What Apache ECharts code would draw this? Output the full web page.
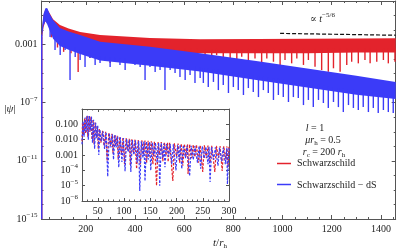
<!DOCTYPE html>
<html><head><meta charset="utf-8">
<script src="https://cdn.jsdelivr.net/npm/echarts@6/dist/echarts.min.js"></script>
<style>html,body{margin:0;padding:0;background:#fff}#c{width:399px;height:251px}</style>
</head><body><div id="c"></div>
<script>
// ---------------- data ----------------
// main plot: envelope of the dense oscillation band (log10 |psi|)
const envT       = [21,   28,   36,   43,   55,   67,   95,   130,  177,  258,  461,  665,  900,  1100, 1300, 1460];
const blueTopExp = [-2.0, -0.9, -0.5, -0.48,-0.95,-1.3, -1.86,-2.1, -2.34,-2.8, -3.15,-3.6, -4.15,-4.65,-5.15,-5.57];
const blueBotExp = [-2.6, -1.7, -1.4, -1.6, -2.1, -2.6, -3.1, -3.35,-3.65,-4.1, -4.45,-4.85,-5.45,-5.95,-6.45,-6.75];
const redTopExp  = [-2.2, -1.0, -0.55,-0.55,-0.9, -1.25,-1.65,-1.9, -2.13,-2.34,-2.55,-2.64,-2.62,-2.6, -2.58,-2.57];
const redBotExp  = [-2.8, -1.8, -1.4, -1.5, -1.9, -2.3, -2.7, -2.9, -3.1, -3.3, -3.5, -3.6, -3.6, -3.6, -3.55,-3.55];

// main plot: visible deep minima [t, log10 |psi|]
const redSpikes = [[21,-15],[60,-2.5],[85,-3.2],[110,-3.5],[140,-3.6],[169,-4.89],[192,-3.7],[217,-3.92],[245,-3.8],[270,-3.9],
 [299,-4.27],[325,-3.8],[345,-3.9],[368,-3.92],[395,-3.8],[421,-4.27],[445,-3.9],[468,-3.8],[490,-3.92],[512,-3.85],
 [535,-4.2],[558,-3.9],[580,-3.95],[604,-4.2],[628,-3.9],[652,-4.0],[685,-3.83],[712,-4.06],[732,-3.72],[759,-4.18],
 [787,-3.95],[814,-4.4],[834,-3.83],[861,-4.18],[888,-3.95],[915,-4.29],[936,-3.95],[963,-4.18],[990,-4.52],[1010,-4.06],
 [1037,-4.29],[1058,-3.95],[1085,-4.4],[1105,-4.06],[1132,-4.52],[1159,-4.75],[1186,-4.87],[1207,-4.63],[1234,-4.87],[1261,-4.4],
 [1281,-4.18],[1308,-4.29],[1335,-4.06],[1356,-4.29],[1383,-4.18],[1410,-4.06],[1430,-4.29],[1457,-4.18]];
const blueSpikes = [[21,-15],[55,-2.48],[75,-3.37],[96,-3.72],[116,-3.37],[136,-5.44],[157,-3.85],[177,-4.06],[197,-4.54],[217,-3.92],
 [238,-4.4],[258,-4.27],[278,-4.06],[299,-4.54],[319,-4.2],[339,-4.4],[360,-4.75],[380,-4.2],[400,-4.4],[421,-4.54],
 [441,-5.44],[461,-4.54],[482,-4.89],[502,-4.75],[522,-6.13],[543,-4.75],[563,-4.96],[583,-5.23],[604,-5.44],[624,-5.09],
 [644,-5.64],[665,-5.3],[678,-5.64],[698,-5.92],[719,-5.57],[739,-6.13],[759,-5.78],[780,-6.33],[800,-5.92],[820,-6.13],
 [841,-6.47],[861,-5.99],[881,-6.26],[902,-6.61],[922,-6.13],[942,-6.33],[963,-6.81],[983,-6.47],[1003,-6.61],[1024,-6.95],
 [1044,-6.61],[1064,-6.68],[1085,-7.16],[1105,-6.81],[1125,-7.3],[1146,-6.81],[1166,-7.02],[1186,-7.36],[1207,-6.95],[1227,-7.3],
 [1247,-7.64],[1268,-7.16],[1288,-7.36],[1308,-7.5],[1328,-7.3],[1349,-7.64],[1369,-7.36],[1389,-7.71],[1410,-7.5],[1430,-7.64],[1450,-7.71]];

// reference power law  ∝ t^(-5/6)
const powerLaw = [[990, 0.0059], [1460, 0.0044]];

// inset: [t, log10 |psi|]
const insetRed = [[20,-2.1],[21,-0.9],[23,-1.7],[25,-0.6],[27,-1.6],[29,-0.48],[31,-1.8],[33,-0.47],[35,-1.5],[37,-0.5],
 [39,-2.0],[41,-0.68],[43,-2.3],[45,-0.88],[47,-1.8],[49,-1.08],[51,-2.6],[53,-1.3],[56,-2.2],[59,-1.42],[62,-2.4],[65,-1.48],
 [68,-3.4],[71,-1.55],[74,-2.4],[77,-1.62],[79,-2.9],[82,-1.68],[84,-2.4],[87,-1.75],[89,-3.3],[92,-1.8],[95,-3.0],[98,-1.86],
 [101,-3.6],[104,-1.9],[107,-2.7],[110,-1.94],[112,-3.7],[115,-1.97],[118,-2.9],[121,-2.0],[124,-3.9],[127,-2.02],[131,-3.6],
 [134,-2.04],[137,-3.0],[140,-2.06],[143,-3.5],[146,-2.08],[149,-3.1],[152,-2.1],[155,-3.6],[158,-2.12],[162,-5.0],[165,-2.14],
 [168,-3.0],[171,-2.16],[174,-3.4],[177,-2.18],[180,-3.0],[183,-2.2],[184,-3.45],[187,-2.21],[193,-4.7],[196,-2.23],[200,-3.1],
 [203,-2.25],[206,-3.5],[209,-2.26],[212,-3.7],[215,-2.28],[218,-3.1],[221,-2.3],[222,-4.24],[225,-2.31],[229,-3.2],[232,-2.33],
 [235,-3.13],[238,-2.34],[242,-3.5],[245,-2.36],[250,-4.1],[253,-2.37],[257,-3.2],[260,-2.38],[264,-3.5],[267,-2.4],[273,-4.1],
 [276,-2.41],[280,-3.2],[283,-2.42],[287,-4.04],[290,-2.43],[294,-3.3],[296,-2.44],[298,-3.8],[300,-2.45]];
const insetBlue = [[20,-2.3],[22,-0.8],[24,-1.8],[26,-0.55],[28,-1.5],[30,-0.45],[32,-2.0],[34,-0.45],[36,-1.4],[38,-0.5],
 [40,-2.2],[42,-0.7],[44,-2.6],[46,-0.9],[48,-1.9],[50,-1.1],[52,-3.0],[54,-1.35],[57,-2.1],[60,-1.45],[63,-2.6],[66,-1.5],
 [69,-4.4],[72,-1.58],[75,-2.5],[78,-1.65],[80,-3.3],[83,-1.7],[85,-2.5],[88,-1.78],[90,-3.8],[93,-1.84],[96,-3.45],[99,-1.9],
 [102,-4.05],[105,-1.95],[108,-2.8],[111,-2.0],[113,-4.1],[116,-2.02],[119,-3.0],[122,-2.05],[125,-3.5],[128,-2.08],[130,-5.35],
 [133,-2.1],[136,-3.2],[138,-2.11],[140,-4.7],[143,-2.13],[146,-3.3],[149,-2.16],[151,-4.0],[154,-2.18],[157,-3.1],[160,-2.2],
 [163,-3.5],[166,-2.21],[168,-5.0],[171,-2.23],[174,-3.2],[176,-2.25],[178,-3.8],[181,-2.27],[185,-3.1],[188,-2.29],[191,-3.6],
 [194,-2.31],[199,-4.0],[202,-2.33],[205,-3.3],[207,-2.34],[210,-3.9],[213,-2.36],[217,-3.2],[220,-2.38],[225,-4.37],[228,-2.4],
 [232,-3.3],[235,-2.41],[240,-3.5],[243,-2.43],[246,-3.9],[249,-2.44],[253,-3.2],[256,-2.46],[260,-3.6],[262,-2.47],[264,-4.76],
 [267,-2.48],[271,-3.3],[274,-2.5],[279,-3.7],[282,-2.51],[286,-3.4],[289,-2.53],[293,-3.6],[296,-2.54],[297,-4.9],[300,-2.55]];

// tick values
const xMajor = [200,400,600,800,1000,1200,1400];
const xMinor = [50,100,150,250,300,350,450,500,550,650,700,750,850,900,950,1050,1100,1150,1250,1300,1350,1450];
const yMajor = [1e-15,1e-11,1e-7,1e-3];
const yMinor = [1e-14,1e-13,1e-12,1e-10,1e-9,1e-8,1e-6,1e-5,1e-4,1e-2,1e-1];
const inXMajor = [50,100,150,200,250,300];
const inXMinor = [30,40,60,70,80,90,110,120,130,140,160,170,180,190,210,220,230,240,260,270,280,290];
const inYMajor = [1e-6,1e-5,1e-4,1e-3,1e-2,1e-1];

// ---------------- chart ----------------
const F = "'Liberation Serif','DejaVu Serif',serif";
const RED = '#e3232c', BLUE = '#3b3bf8', AX = '#555', TXT = '#222';
const p10 = e => Math.pow(10, e);

function interpExp(t, arr) {
  if (t <= envT[0]) return arr[0];
  for (let i = 0; i < envT.length - 1; i++) {
    if (t <= envT[i + 1]) {
      const f = (t - envT[i]) / (envT[i + 1] - envT[i]);
      return arr[i] + f * (arr[i + 1] - arr[i]);
    }
  }
  return arr[arr.length - 1];
}

function bandSeries(topExp, botExp, color, z) {
  return {
    type: 'custom', xAxisIndex: 0, yAxisIndex: 0, z: z, silent: true,
    data: envT.map((t, i) => [t, p10(topExp[i])]),
    renderItem: function (params, api) {
      if (params.dataIndex !== 0) return null;
      const pts = [];
      for (let i = 0; i < envT.length; i++) pts.push(api.coord([envT[i], p10(topExp[i])]));
      for (let i = envT.length - 1; i >= 0; i--) pts.push(api.coord([envT[i], p10(botExp[i])]));
      return { type: 'polygon', shape: { points: pts }, style: { fill: color } };
    }
  };
}
function spikeSeries(spikes, botExp, color, z) {
  return {
    type: 'custom', xAxisIndex: 0, yAxisIndex: 0, z: z, silent: true,
    data: spikes.map(s => [s[0], p10(s[1])]),
    renderItem: function (params, api) {
      const t = api.value(0), v = api.value(1);
      const a = api.coord([t, p10(interpExp(t, botExp) + 0.3)]);
      const b = api.coord([t, v]);
      return { type: 'line', shape: { x1: a[0], y1: a[1], x2: b[0], y2: b[1] },
               style: { stroke: color, lineWidth: 1.4 } };
    }
  };
}

const supRich = {
  b: { fontFamily: F, fontSize: 10, color: TXT },
  s: { fontFamily: F, fontSize: 7, color: TXT, padding: [0, 0, 8, 0] }
};
function expLabel(v) { const e = Math.round(Math.log10(v)); return '{b|10}{s|\u2212' + (-e) + '}'; }

const lbl = { fontFamily: F, fontSize: 10, color: TXT };
const tickStyle = { color: AX, width: 1 };

function xAxis(grid, min, max, pos, vals, len, showLine, labels) {
  return {
    type: 'value', gridIndex: grid, min: min, max: max, position: pos,
    axisLine: { show: showLine, lineStyle: { color: AX, width: 1 } },
    axisTick: { show: true, inside: true, length: len, customValues: vals, lineStyle: tickStyle },
    axisLabel: labels ? Object.assign({ customValues: vals, formatter: v => String(v), margin: 5 }, lbl) : { show: false },
    splitLine: { show: false }
  };
}
function yAxis(grid, min, max, pos, vals, len, showLine, labels) {
  return {
    type: 'log', logBase: 10, gridIndex: grid, min: min, max: max, position: pos,
    axisLine: { show: showLine, lineStyle: { color: AX, width: 1 } },
    axisTick: { show: true, inside: true, length: len, customValues: vals, lineStyle: tickStyle },
    axisLabel: labels ? Object.assign({ customValues: vals, margin: 4, rich: supRich }, lbl, { formatter: labels }) : { show: false },
    splitLine: { show: false }
  };
}

const mainYFmt = v => { const e = Math.round(Math.log10(v)); return e === -3 ? '0.001' : expLabel(v); };
const insetYFmt = v => {
  const e = Math.round(Math.log10(v));
  if (e === -1) return '0.100'; if (e === -2) return '0.010'; if (e === -3) return '0.001';
  return expLabel(v);
};

const chart = echarts.init(document.getElementById('c'), null, { renderer: 'canvas' });
chart.setOption({
  animation: false,
  backgroundColor: '#fff',
  grid: [
    { left: 41.5, right: 3.3, top: 1, bottom: 32 },
    { left: 82, right: 170, top: 109, bottom: 50, show: true, backgroundColor: '#fff', borderWidth: 0 }
  ],
  xAxis: [
    xAxis(0, 20, 1460, 'bottom', xMajor, 4, true, true),
    xAxis(0, 20, 1460, 'bottom', xMinor, 2, false, false),
    xAxis(0, 20, 1460, 'top', xMajor, 4, true, false),
    xAxis(0, 20, 1460, 'top', xMinor, 2, false, false),
    xAxis(1, 20, 300, 'bottom', inXMajor, 3, true, true),
    xAxis(1, 20, 300, 'bottom', inXMinor, 1.5, false, false),
    xAxis(1, 20, 300, 'top', inXMajor, 3, true, false),
    xAxis(1, 20, 300, 'top', inXMinor, 1.5, false, false)
  ],
  yAxis: [
    yAxis(0, 1e-15, 1, 'left', yMajor, 4, true, mainYFmt),
    yAxis(0, 1e-15, 1, 'left', yMinor, 2, false, null),
    yAxis(0, 1e-15, 1, 'right', yMajor, 4, true, null),
    yAxis(0, 1e-15, 1, 'right', yMinor, 2, false, null),
    yAxis(1, 1e-6, 1, 'left', inYMajor, 3, true, insetYFmt),
    yAxis(1, 1e-6, 1, 'right', inYMajor, 3, true, null)
  ],
  series: [
    bandSeries(redTopExp, redBotExp, RED, 2),
    spikeSeries(redSpikes, redBotExp, RED, 2),
    bandSeries(blueTopExp, blueBotExp, BLUE, 3),
    spikeSeries(blueSpikes, blueBotExp, BLUE, 3),
    { type: 'line', xAxisIndex: 0, yAxisIndex: 0, data: powerLaw, showSymbol: false, z: 4,
      lineStyle: { color: '#111', width: 1.2, type: [4, 2] } },
    { type: 'line', xAxisIndex: 4, yAxisIndex: 4, data: insetRed.map(d => [d[0], p10(d[1])]), showSymbol: false, z: 5,
      lineStyle: { color: RED, width: 1.2, type: [2.5, 1.5] } },
    { type: 'line', xAxisIndex: 4, yAxisIndex: 4, data: insetBlue.map(d => [d[0], p10(d[1])]), showSymbol: false, z: 6,
      lineStyle: { color: BLUE, width: 1.2, type: [2.5, 1.5] } }
  ],
  graphic: [
    { type: 'text', x: 10, y: 109, style: { text: '|{i|\u03c8}|', fill: TXT, font: '11px ' + F, align: 'center', verticalAlign: 'middle',
      rich: { i: { fontFamily: F, fontSize: 11, fontStyle: 'italic', fill: TXT } } } },
    { type: 'text', x: 220, y: 243, style: { text: '{i|t}/{i|r}{sub|h}', fill: TXT, font: '11px ' + F, align: 'center', verticalAlign: 'middle',
      rich: { i: { fontFamily: F, fontSize: 11, fontStyle: 'italic', fill: TXT }, sub: { fontFamily: F, fontSize: 7, fill: TXT, padding: [6, 0, 0, 0] } } } },
    { type: 'text', x: 310, y: 19, style: { text: '\u221d {i|t}{sup|\u22125/6}', fill: TXT, font: '10px ' + F, align: 'left', verticalAlign: 'middle',
      rich: { i: { fontFamily: F, fontSize: 10, fontStyle: 'italic', fill: TXT }, sup: { fontFamily: F, fontSize: 7, fill: TXT, padding: [0, 0, 8, 0] } } } },
    { type: 'text', x: 315, y: 128, style: { text: '{i|l} = 1', fill: TXT, font: '10px ' + F, align: 'center', verticalAlign: 'middle',
      rich: { i: { fontFamily: F, fontSize: 10, fontStyle: 'italic', fill: TXT } } } },
    { type: 'text', x: 323, y: 140, style: { text: '{i|\u03bcr}{sub|h} = 0.5', fill: TXT, font: '10px ' + F, align: 'center', verticalAlign: 'middle',
      rich: { i: { fontFamily: F, fontSize: 10, fontStyle: 'italic', fill: TXT }, sub: { fontFamily: F, fontSize: 7, fill: TXT, padding: [6, 0, 0, 0] } } } },
    { type: 'text', x: 324, y: 152, style: { text: '{i|r}{sub|c} = 200 {i|r}{sub|h}', fill: TXT, font: '10px ' + F, align: 'center', verticalAlign: 'middle',
      rich: { i: { fontFamily: F, fontSize: 10, fontStyle: 'italic', fill: TXT }, sub: { fontFamily: F, fontSize: 7, fill: TXT, padding: [6, 0, 0, 0] } } } },
    { type: 'line', shape: { x1: 277, y1: 163.5, x2: 291, y2: 163.5 }, style: { stroke: RED, lineWidth: 1.5 } },
    { type: 'text', x: 297, y: 163, style: { text: 'Schwarzschild', fill: TXT, font: '10px ' + F, align: 'left', verticalAlign: 'middle' } },
    { type: 'line', shape: { x1: 277, y1: 184.5, x2: 291, y2: 184.5 }, style: { stroke: BLUE, lineWidth: 1.5 } },
    { type: 'text', x: 297, y: 185, style: { text: 'Schwarzschild \u2212 dS', fill: TXT, font: '10px ' + F, align: 'left', verticalAlign: 'middle' } }
  ]
});
</script>
</body></html>
